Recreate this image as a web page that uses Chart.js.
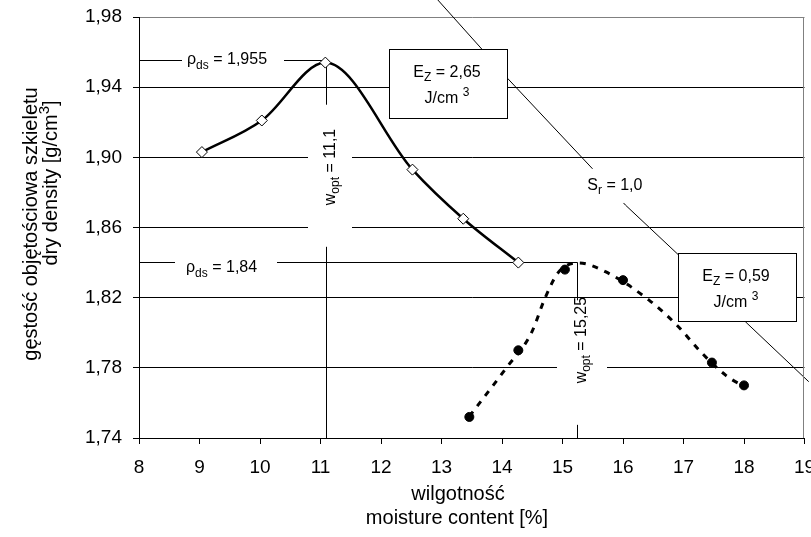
<!DOCTYPE html>
<html>
<head>
<meta charset="utf-8">
<script src="https://cdn.jsdelivr.net/npm/chart.js@4.4.1/dist/chart.umd.min.js"></script>
<style>
  html, body { margin: 0; padding: 0; background: #fff; }
</style>
</head>
<body>
<canvas id="chart" width="811" height="537"></canvas>
<script>
/* -------------------- DATA -------------------- */
const xTicks = [8, 9, 10, 11, 12, 13, 14, 15, 16, 17, 18, 19];
const yTicks = [1.74, 1.78, 1.82, 1.86, 1.90, 1.94, 1.98];

// E_Z = 2,65 J/cm3 - open diamonds, solid curve
const wHigh = [9.04, 10.03, 11.08, 12.52, 13.36, 14.27];
const rhoHigh = [1.903, 1.921, 1.954, 1.893, 1.865, 1.840];

// E_Z = 0,59 J/cm3 - filled dots
const wLow = [13.46, 14.27, 15.04, 16.00, 17.47, 18.00];
const rhoLow = [1.752, 1.790, 1.836, 1.830, 1.783, 1.770];

// dashed fitted curve for E_Z = 0,59
const wLowFit = [13.46, 14.07, 14.48, 14.72, 14.94, 15.27, 15.71, 16.43, 16.92, 17.26, 17.70, 17.92, 18.00];
const rhoLowFit = [1.7523, 1.7799, 1.7995, 1.8205, 1.8348, 1.8398, 1.8348, 1.8186, 1.8033, 1.7900, 1.7757, 1.7710, 1.7700];

// S_r = 1,0 line
const wSat = [12.94, 13.68, 14.09, 15.49, 16.04, 16.92, 18.05, 19.07, 19.12];
const rhoSat = [1.9897, 1.9612, 1.9451, 1.8937, 1.8728, 1.8443, 1.8054, 1.7721, 1.7704];

// optimum points
const optHigh = { w: 11.1, rho: 1.955, wLabel: "11,1", rhoLabel: "1,955" };
const optLow = { w: 15.25, rho: 1.84, wLabel: "15,25", rhoLabel: "1,84" };

const energyLabels = ["2,65", "0,59"];

/* -------------------- HELPERS -------------------- */
const FONT = "'Liberation Sans', Arial, sans-serif";

function toPoints(xs, ys) {
    return xs.map((x, i) => ({ x: x, y: ys[i] }));
}

// draws text made of parts, some parts sub/superscript
function drawRich(ctx, parts, x, y, size, align) {
    ctx.save();
    ctx.textBaseline = "alphabetic";
    ctx.textAlign = "left";
    ctx.fillStyle = "#000";
    let total = 0;
    parts.forEach(p => {
        const s = (p.sub || p.sup) ? size * 0.75 : size;
        ctx.font = s + "px " + FONT;
        p.w = ctx.measureText(p.t).width;
        total += p.w;
    });
    let cx = align === "left" ? x : x - total / 2;
    parts.forEach(p => {
        const s = (p.sub || p.sup) ? size * 0.75 : size;
        ctx.font = s + "px " + FONT;
        const dy = p.sub ? size * 0.28 : p.sup ? -size * 0.42 : 0;
        ctx.fillText(p.t, cx, y + dy);
        cx += p.w;
    });
    ctx.restore();
}

function hLine(ctx, x1, x2, y) {
    const yy = Math.floor(y) + 0.5;
    ctx.beginPath();
    ctx.moveTo(x1, yy);
    ctx.lineTo(x2, yy);
    ctx.stroke();
}

function vLine(ctx, x, y1, y2) {
    const xx = Math.floor(x) + 0.5;
    ctx.beginPath();
    ctx.moveTo(xx, y1);
    ctx.lineTo(xx, y2);
    ctx.stroke();
}

/* -------------------- ANNOTATIONS PLUGIN -------------------- */
const annotations = {
    id: "annotations",

    beforeDatasetsDraw(chart) {
        const ctx = chart.ctx;
        const xs = chart.scales.x, ys = chart.scales.y;
        const x0 = xs.getPixelForValue(8);
        const yBottom = ys.getPixelForValue(1.74);

        ctx.save();
        ctx.strokeStyle = "#000";
        ctx.lineWidth = 1;

        // optimum guide lines
        [optHigh, optLow].forEach(o => {
            const px = xs.getPixelForValue(o.w);
            const py = ys.getPixelForValue(o.rho);
            hLine(ctx, x0, px, py);
            vLine(ctx, px, py, yBottom);
        });

        // white gaps behind labels
        ctx.fillStyle = "#fff";
        const yH = ys.getPixelForValue(optHigh.rho);
        ctx.fillRect(x0 + 43, yH - 8, 102, 16);
        const yL = ys.getPixelForValue(optLow.rho);
        ctx.fillRect(x0 + 36, yL - 8, 102, 20);

        const xH = Math.floor(xs.getPixelForValue(optHigh.w));
        ctx.fillRect(xH - 18, ys.getPixelForValue(1.930), 44, ys.getPixelForValue(1.849) - ys.getPixelForValue(1.930));
        const xL = Math.floor(xs.getPixelForValue(optLow.w));
        ctx.fillRect(xL - 20, ys.getPixelForValue(1.8185), 50, ys.getPixelForValue(1.7475) - ys.getPixelForValue(1.8185));

        // rho labels
        drawRich(ctx, [{ t: "ρ" }, { t: "ds", sub: true }, { t: " = " + optHigh.rhoLabel }], x0 + 48, yH + 3.5, 16, "left");
        drawRich(ctx, [{ t: "ρ" }, { t: "ds", sub: true }, { t: " = " + optLow.rhoLabel }], x0 + 47, yL + 9.5, 16, "left");

        // rotated w_opt labels
        [[optHigh, 1.8945], [optLow, 1.7958]].forEach(([o, mid]) => {
            ctx.save();
            ctx.translate(Math.floor(xs.getPixelForValue(o.w)) + 9, ys.getPixelForValue(mid));
            ctx.rotate(-Math.PI / 2);
            drawRich(ctx, [{ t: "w" }, { t: "opt", sub: true }, { t: " = " + o.wLabel }], 0, 0, 16, "center");
            ctx.restore();
        });

        ctx.restore();
    },

    afterDatasetsDraw(chart) {
        const ctx = chart.ctx;
        const xs = chart.scales.x, ys = chart.scales.y;
        const area = chart.chartArea;

        ctx.save();

        // S_r label with gap in the line
        const sx = xs.getPixelForValue(15.866);
        const sy = ys.getPixelForValue(1.8814);
        ctx.fillStyle = "#fff";
        ctx.fillRect(sx - 24, sy - 21, 56, 34);
        drawRich(ctx, [{ t: "S" }, { t: "r", sub: true }, { t: " = 1,0" }], sx, sy, 16, "center");

        // energy boxes
        const boxes = [
            { x1: 12.139, x2: 14.09, y1: 1.9612, y2: 1.9222, label: energyLabels[0] },
            { x1: 16.921, x2: 18.862, y1: 1.8453, y2: 1.8063, label: energyLabels[1] }
        ];
        boxes.forEach(b => {
            const l = Math.floor(xs.getPixelForValue(b.x1)) + 0.5;
            const r = Math.floor(xs.getPixelForValue(b.x2)) + 0.5;
            const t = Math.floor(ys.getPixelForValue(b.y1)) + 0.5;
            const bt = Math.floor(ys.getPixelForValue(b.y2)) + 0.5;
            ctx.fillStyle = "#fff";
            ctx.fillRect(l, t, r - l, bt - t);
            ctx.strokeStyle = "#000";
            ctx.lineWidth = 1;
            ctx.strokeRect(l, t, r - l, bt - t);
            const cx = (l + r) / 2 - 1.5;
            drawRich(ctx, [{ t: "E" }, { t: "Z", sub: true }, { t: " = " + b.label }], cx, t + 27.5, 16, "center");
            drawRich(ctx, [{ t: "J/cm " }, { t: "3", sup: true }], cx, t + 53, 16, "center");
        });

        // grey frame on the right
        ctx.strokeStyle = "#808080";
        ctx.lineWidth = 1;
        vLine(ctx, area.right - 1, area.top, area.bottom);

        ctx.restore();
    },

    afterDraw(chart) {
        const ctx = chart.ctx;
        ctx.save();
        ctx.fillStyle = "#000";
        ctx.textAlign = "center";
        ctx.textBaseline = "middle";
        ctx.font = "20px " + FONT;
        ctx.fillText("wilgotność", 458, 494);
        ctx.fillText("moisture content [%]", 457, 518);

        ctx.translate(31, 224);
        ctx.rotate(-Math.PI / 2);
        ctx.fillText("gęstość objętościowa szkieletu", 0, 0);
        ctx.restore();

        ctx.save();
        ctx.translate(57, 183);
        ctx.rotate(-Math.PI / 2);
        drawRich(ctx, [{ t: "dry density [g/cm" }, { t: "3", sup: true }, { t: "]" }], 0, 0, 20, "center");
        ctx.restore();
    }
};

/* -------------------- CHART -------------------- */
const chart = new Chart(document.getElementById("chart"), {
    type: "scatter",
    data: {
        datasets: [
            {
                label: "S_r = 1,0",
                data: toPoints(wSat, rhoSat),
                showLine: true,
                borderColor: "#000",
                borderWidth: 1,
                pointRadius: 0,
                tension: 0,
                clip: false
            },
            {
                label: "E_Z = 0,59 fit",
                data: toPoints(wLowFit, rhoLowFit),
                showLine: true,
                borderColor: "#000",
                borderWidth: 3,
                borderDash: [6, 7],
                pointRadius: 0,
                cubicInterpolationMode: "monotone"
            },
            {
                label: "E_Z = 0,59",
                data: toPoints(wLow, rhoLow),
                showLine: false,
                pointStyle: "circle",
                pointRadius: 4.5,
                backgroundColor: "#000",
                borderColor: "#000",
                borderWidth: 1
            },
            {
                label: "E_Z = 2,65",
                data: toPoints(wHigh, rhoHigh),
                showLine: true,
                borderColor: "#000",
                borderWidth: 2.5,
                cubicInterpolationMode: "monotone",
                pointStyle: "rectRot",
                pointRadius: 5.5,
                pointBackgroundColor: "#fff",
                pointBorderColor: "#000",
                pointBorderWidth: 1
            }
        ]
    },
    options: {
        responsive: false,
        animation: false,
        devicePixelRatio: 1,
        layout: { padding: { top: 17, right: 5, left: 0, bottom: 0 } },
        plugins: {
            legend: { display: false },
            tooltip: { enabled: false }
        },
        scales: {
            x: {
                type: "linear",
                min: 8,
                max: 19,
                afterBuildTicks: s => { s.ticks = xTicks.map(v => ({ value: v })); },
                afterFit: s => { s.height = 99; s.paddingLeft = 0; s.paddingRight = 0; },
                ticks: {
                    color: "#000",
                    font: { family: FONT, size: 19 },
                    padding: 12,
                    maxRotation: 0,
                    autoSkip: false
                },
                grid: { drawOnChartArea: false, color: "#000", tickLength: 6 },
                border: { color: "#000", width: 1 }
            },
            y: {
                type: "linear",
                min: 1.74,
                max: 1.98,
                afterBuildTicks: s => { s.ticks = yTicks.map(v => ({ value: v })); },
                afterFit: s => { s.width = 139; s.paddingTop = 0; s.paddingBottom = 0; },
                ticks: {
                    color: "#000",
                    font: { family: FONT, size: 19 },
                    padding: 11,
                    callback: v => v.toFixed(2).replace(".", ",")
                },
                grid: {
                    color: c => (c.tick && Math.abs(c.tick.value - 1.98) < 1e-6) ? "#808080" : "#000",
                    tickColor: "#000",
                    lineWidth: 1,
                    tickLength: 6
                },
                border: { color: "#000", width: 1 }
            }
        }
    },
    plugins: [annotations]
});
</script>
</body>
</html>
